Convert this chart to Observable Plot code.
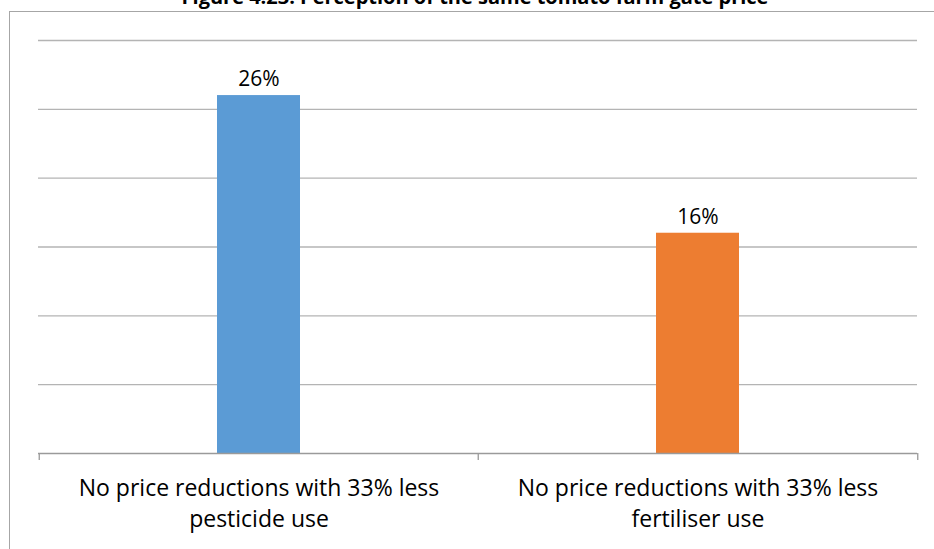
<!DOCTYPE html>
<html>
<head>
<meta charset="utf-8">
<script src="https://cdn.jsdelivr.net/npm/d3@7"></script>
<script src="https://cdn.jsdelivr.net/npm/@observablehq/plot@0.6"></script>
<style>
  html, body { margin: 0; padding: 0; background: #fff; overflow: hidden; }
  #wrap { position: relative; width: 934px; height: 549px; overflow: hidden; font-family: "Open Sans", sans-serif; }
  #title { position: absolute; left: 0; width: 950px; top: -17px; text-align: center; font-weight: bold; font-size: 20px; color: #000; white-space: nowrap; }
  #frame { position: absolute; left: 9px; top: 11px; width: 940px; height: 560px; border: 1px solid #a6a6a6; box-sizing: border-box; }
  #chart { position: absolute; left: 0; top: 0; }
</style>
</head>
<body>
<div id="wrap">
  <div id="frame"></div>
  <div id="title">Figure 4.23: Perception of the same tomato farm gate price</div>
  <div id="chart"></div>
</div>
<script>
const categories = [
  "No price reductions with 33% less\npesticide use",
  "No price reductions with 33% less\nfertiliser use"
];
const values = [26, 16];
const colors = ["#5B9BD5", "#ED7D31"];
const yTicks = [0, 5, 10, 15, 20, 25, 30];

const data = categories.map((c, i) => ({category: c, value: values[i], color: colors[i]}));

const W = 934, H = 549;
const mL = 38, mR = 17, mT = 40, mB = 96;
const step = (W - mL - mR) / categories.length;

const chart = Plot.plot({
  width: W,
  height: H,
  marginLeft: mL,
  marginRight: mR,
  marginTop: mT,
  marginBottom: mB,
  style: {fontFamily: "'Open Sans', sans-serif", background: "transparent", overflow: "visible"},
  x: {domain: categories, padding: 0.811, paddingOuter: 0.4055, align: 0.5, label: null},
  y: {domain: [0, 30], label: null},
  marks: [
    Plot.ruleY(yTicks.filter(d => d > 0), {stroke: "#b4b4b4", strokeWidth: 1.3}),
    Plot.barY(data, {x: "category", y: "value", fill: "color"}),
    Plot.ruleY([0], {stroke: "#9a9a9a", strokeWidth: 1.3}),
    Plot.ruleX(categories, {x: d => d, y1: 0, y2: 0, dx: -step / 2, insetBottom: -7, stroke: "#9a9a9a", strokeWidth: 1.3}),
    Plot.ruleX(categories.slice(-1), {x: d => d, y1: 0, y2: 0, dx: step / 2, insetBottom: -7, stroke: "#9a9a9a", strokeWidth: 1.3}),
    Plot.text(data, {x: "category", y: "value", text: d => d.value + "%", dy: -16, fontSize: 21, fill: "#000"}),
    Plot.axisX({tickSize: 0, tickPadding: 20, fontSize: 23, lineHeight: 1.36, color: "#000", label: null}),
    Plot.axisY({ticks: [], label: null, tickSize: 0})
  ]
});
document.getElementById("chart").appendChild(chart);
</script>
</body>
</html>
